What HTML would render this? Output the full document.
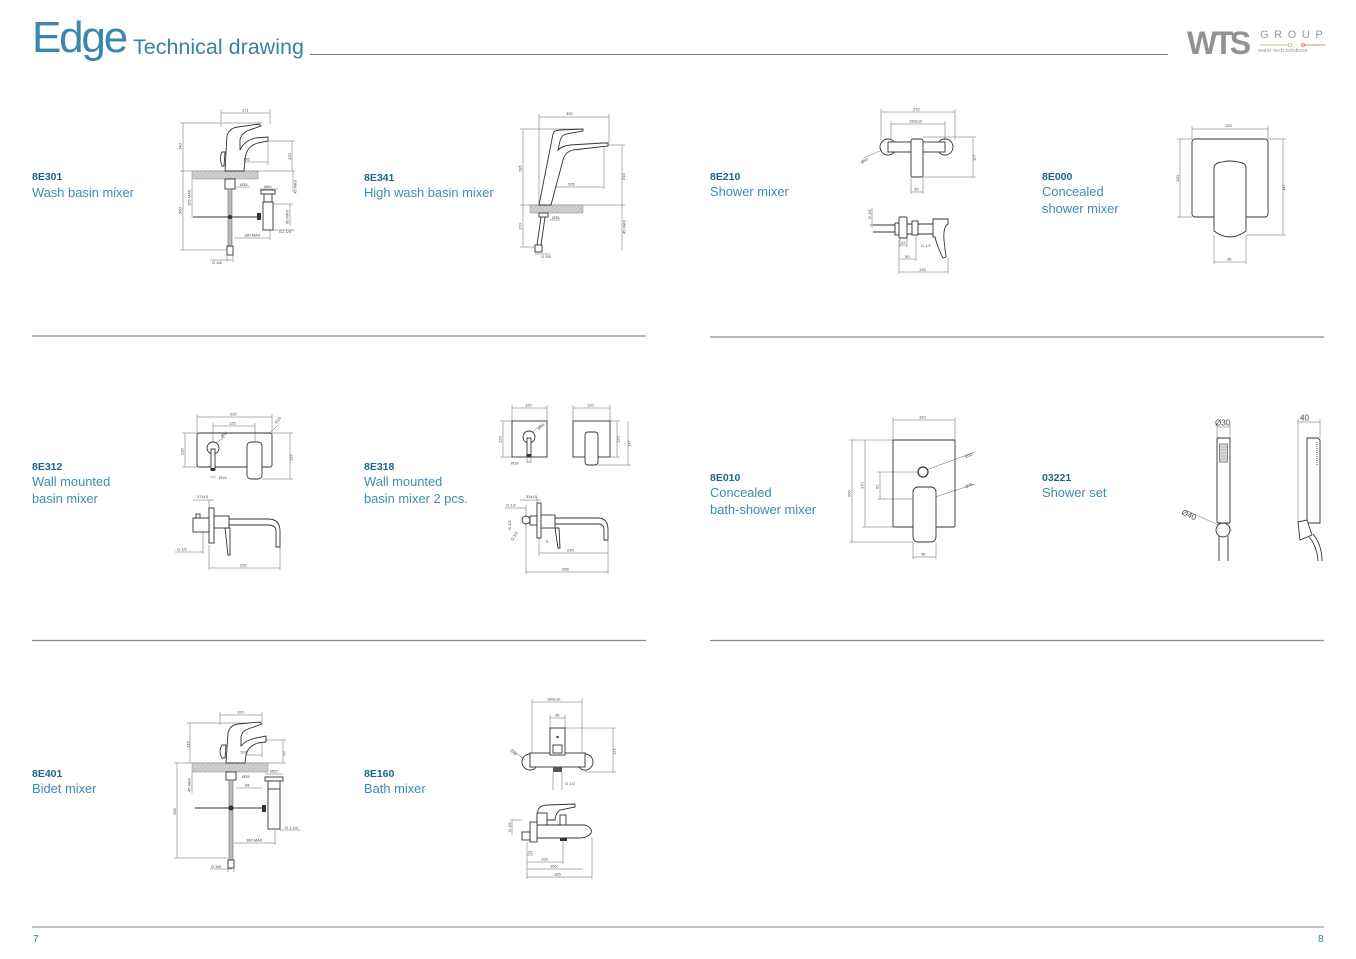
<!DOCTYPE html>
<html>
<head>
<meta charset="utf-8">
<style>
html,body{margin:0;padding:0;background:#fff;}
body{width:1356px;height:959px;position:relative;overflow:hidden;font-family:"Liberation Sans",sans-serif;}
.abs{position:absolute;white-space:nowrap;}
.title{left:32px;top:12px;font-size:44px;letter-spacing:-2.2px;color:#3a87ae;line-height:52px;}
.sub{left:133px;top:34px;font-size:21.5px;color:#3683a9;line-height:26px;}
.code{font-size:10.5px;font-weight:bold;color:#1d6688;line-height:12px;}
.desc{font-size:12.9px;color:#3a8db3;line-height:16.5px;}
.pn{font-size:10px;color:#2b7aa0;}
.wts{left:1187px;top:26px;font-size:32px;font-weight:bold;color:#939393;letter-spacing:-3.5px;line-height:34px;}
.grp{left:1260px;top:29px;font-size:11px;color:#9a9a9a;letter-spacing:5.6px;line-height:13px;}
.wtsol{left:1258px;top:48px;font-size:5.6px;color:#9a9a9a;line-height:7px;}
svg{position:absolute;left:0;top:0;}
.o{stroke:#333;stroke-width:0.9;fill:none;}
.of{stroke:#333;stroke-width:0.9;fill:#fff;}
.d{stroke:#666;stroke-width:0.5;fill:none;}
.t{font-family:"Liberation Sans",sans-serif;font-size:4px;fill:#444;}
.t8{font-family:"Liberation Sans",sans-serif;font-size:8px;fill:#444;}
</style>
</head>
<body>
<div class="abs title">Edge</div>
<div class="abs sub">Technical drawing</div>
<div class="abs wts">WTS</div>
<div class="abs grp">GROUP</div>
<div class="abs wtsol">water tech solutions</div>

<div class="abs code" style="left:32px;top:171px;">8E301</div>
<div class="abs desc" style="left:32px;top:185px;">Wash basin mixer</div>
<div class="abs code" style="left:364px;top:172px;">8E341</div>
<div class="abs desc" style="left:364px;top:185px;">High wash basin mixer</div>
<div class="abs code" style="left:710px;top:171px;">8E210</div>
<div class="abs desc" style="left:710px;top:184px;">Shower mixer</div>
<div class="abs code" style="left:1042px;top:171px;">8E000</div>
<div class="abs desc" style="left:1042px;top:184px;">Concealed<br>shower mixer</div>

<div class="abs code" style="left:32px;top:461px;">8E312</div>
<div class="abs desc" style="left:32px;top:474px;">Wall mounted<br>basin mixer</div>
<div class="abs code" style="left:364px;top:461px;">8E318</div>
<div class="abs desc" style="left:364px;top:474px;">Wall mounted<br>basin mixer 2 pcs.</div>
<div class="abs code" style="left:710px;top:472px;">8E010</div>
<div class="abs desc" style="left:710px;top:485px;">Concealed<br>bath-shower mixer</div>
<div class="abs code" style="left:1042px;top:472px;">03221</div>
<div class="abs desc" style="left:1042px;top:485px;">Shower set</div>

<div class="abs code" style="left:32px;top:768px;">8E401</div>
<div class="abs desc" style="left:32px;top:781px;">Bidet mixer</div>
<div class="abs code" style="left:364px;top:768px;">8E160</div>
<div class="abs desc" style="left:364px;top:781px;">Bath mixer</div>

<div class="abs pn" style="left:33px;top:934px;">7</div>
<div class="abs pn" style="left:1318px;top:934px;">8</div>

<svg width="1356" height="959" viewBox="0 0 1356 959" xmlns="http://www.w3.org/2000/svg">
<defs>
<pattern id="h" width="3" height="3" patternUnits="userSpaceOnUse" patternTransform="rotate(45)">
<rect width="3" height="3" fill="#d0d0d0"/>
<line x1="0" y1="0" x2="0" y2="3" stroke="#9a9a9a" stroke-width="0.6"/>
</pattern>
</defs>

<!-- header / dividers -->
<line x1="310" y1="54.5" x2="1168" y2="54.5" stroke="#7a7a7a" stroke-width="1"/>
<line x1="1260" y1="45" x2="1288" y2="45" stroke="#8cc06a" stroke-width="0.8"/>
<circle cx="1290" cy="45" r="1.8" fill="none" stroke="#8cc06a" stroke-width="0.7"/>
<line x1="1302" y1="45" x2="1325" y2="45" stroke="#d06a5a" stroke-width="0.8"/>
<circle cx="1303" cy="45" r="1.8" fill="none" stroke="#d06a5a" stroke-width="0.7"/>
<line x1="32" y1="336" x2="646" y2="336" stroke="#8a8a8a" stroke-width="1.2"/>
<line x1="710" y1="337" x2="1324" y2="337" stroke="#8a8a8a" stroke-width="1.2"/>
<line x1="32" y1="640.5" x2="646" y2="640.5" stroke="#8a8a8a" stroke-width="1.2"/>
<line x1="710" y1="640.5" x2="1324" y2="640.5" stroke="#8a8a8a" stroke-width="1.2"/>
<line x1="32" y1="927" x2="1324" y2="927" stroke="#8a8a8a" stroke-width="1"/>

<!-- D1 8E301 -->
<g>
<path class="d" d="M221,113H270 M221,109V127 M270,109V124 M183,123V250 M180,123H262 M180,171H295 M180,250H228 M268,141H295 M292,141V171 M227,162H268 M268,141V165 M236,187H250 M192,179V217 M260,189H278 M293,171V192 M290,204V226 M273,230H295 M273,204H293 M234,238H270 M270,230V240 M210,260H232 M227,255V262 M233,255V262"/>
<rect x="192" y="171" width="66" height="8" fill="url(#h)" stroke="#777" stroke-width="0.4"/>
<path class="of" d="M225,171 L227,136 Q229,128 238,127 L259,124 L261,126 L247,131 Q241,134 240,140 L240,150 Q244,141 255,138 L268,137 L268,141 L258,143 Q246,146 245,160 L244,171 Z"/>
<path class="of" d="M222,152 Q219,158 222,166 L224,166 L225,152 Z"/>
<rect class="of" x="225" y="179" width="10" height="10"/>
<rect x="228" y="189" width="4" height="57" fill="#bbb" stroke="#555" stroke-width="0.5"/>
<path class="o" d="M193,217H258"/>
<circle cx="230" cy="217" r="2" fill="#333"/>
<rect class="of" x="261" y="190" width="14" height="4"/>
<rect class="of" x="264" y="194" width="8" height="8"/>
<rect class="of" x="263" y="202" width="10" height="28"/>
<rect x="257" y="213" width="4" height="7" fill="#333"/>
<rect class="of" x="227" y="246" width="6" height="9"/>
<text class="t" x="242" y="111.5">171</text>
<text class="t" transform="translate(181.5,150) rotate(-90)">140</text>
<text class="t" transform="translate(181.5,214) rotate(-90)">360</text>
<text class="t" transform="translate(190.5,206) rotate(-90)">155 MAX</text>
<text class="t" transform="translate(291,160) rotate(-90)">120</text>
<text class="t" x="243" y="160.5">135</text>
<text class="t" x="240" y="186">Ø35</text>
<text class="t" x="264" y="188">Ø64</text>
<text class="t" transform="translate(296.5,194) rotate(-90)">45 MAX</text>
<text class="t" transform="translate(288.5,224) rotate(-90)">90 MAX</text>
<text class="t" x="279" y="233">G1 1/4"</text>
<text class="t" x="244" y="236.5">180 MAX</text>
<text class="t" x="212" y="264">G 3/8</text>
</g>

<!-- D2 8E341 -->
<g>
<path class="d" d="M539,117H609 M539,114V205 M609,114V143 M523,129V247 M520,129H582 M520,205H625 M520,247H537 M608,145H625 M622,145V205 M543,187H604 M604,147V189 M550,220H560 M535,254H550 M622,205V250"/>
<rect x="530" y="205" width="53" height="8" fill="url(#h)" stroke="#777" stroke-width="0.4"/>
<path class="of" d="M539,205 L553,134 Q554,130 560,130 L583,129 L583,131 L566,134 Q561,136 560,141 L558,150 Q562,146 570,145 L603,143 L608,143 L608,146 L573,150 Q565,152 563,160 L551,205 Z"/>
<rect class="of" x="539" y="213" width="9" height="4"/>
<path class="o" d="M541,217 L537,245 M545,217 L541,245"/>
<rect class="of" x="535" y="245" width="7" height="7"/>
<text class="t" x="566" y="115">300</text>
<text class="t" transform="translate(521.5,172) rotate(-90)">285</text>
<text class="t" transform="translate(521.5,230) rotate(-90)">170</text>
<text class="t" transform="translate(625,180) rotate(-90)">210</text>
<text class="t" x="568" y="185.5">205</text>
<text class="t" x="552" y="219">Ø35</text>
<text class="t" transform="translate(625.5,234) rotate(-90)">45 MAX</text>
<text class="t" x="541" y="258">G 3/8</text>
</g>

<!-- D3 8E210 -->
<g>
<path class="d" d="M881,112H955 M881,109V140 M955,109V140 M891,124H945 M891,121V140 M945,121V140 M923,137H976 M923,177H976 M973,137V177 M911,192H923 M911,177V194 M923,177V194 M864,158 L882,150"/>
<circle class="o" cx="888" cy="147" r="8"/>
<circle class="o" cx="945" cy="147" r="8"/>
<rect class="of" x="888" y="142" width="57" height="10"/>
<rect class="of" x="911" y="139" width="12" height="38" rx="2"/>
<text class="t" x="913" y="110.5">210</text>
<text class="t" x="909" y="122.5">150±10</text>
<text class="t" transform="translate(975.5,161) rotate(-90)">117</text>
<text class="t" x="914" y="190.5">35</text>
<text class="t" transform="translate(862,164) rotate(-35)">Ø60</text>
<path class="d" d="M872,208V228 M869,225H880 M900,245H907 M900,238V247 M907,238V247 M899,259H916 M899,240V274 M916,236V261 M899,272H948 M948,258V274"/>
<path class="o" d="M873,225H895 M873,232H895"/>
<rect class="of" x="895" y="223" width="5" height="12"/>
<rect class="of" x="899" y="217" width="8" height="21" rx="1"/>
<path class="o" d="M907,224H933 M907,234H933"/>
<rect class="of" x="912" y="221" width="6" height="14"/>
<path class="of" d="M933,219 L948,219 L948,224 Q943,227 944,240 L946,257 L943,258 Q937,246 935,237 L933,237 Z"/>
<text class="t" transform="translate(871,219) rotate(-90)">G 1/2</text>
<text class="t" x="901" y="244">22</text>
<text class="t" x="921" y="247">G 1/2</text>
<text class="t" x="905" y="258">50</text>
<text class="t" x="919" y="271">135</text>
</g>

<!-- D4 8E000 -->
<g>
<path class="d" d="M1192,129H1268 M1192,126V139 M1268,126V139 M1180,139V217 M1177,139H1192 M1177,217H1192 M1283,139V235 M1268,139H1286 M1246,235H1286 M1214,262H1246 M1214,235V264 M1246,235V264"/>
<rect class="o" x="1192" y="139" width="76" height="78" rx="3"/>
<path class="of" d="M1214,168 Q1214,163 1222,162 Q1230,160 1238,162 Q1246,163 1246,168 L1246,231 Q1238,237 1230,237 Q1222,237 1214,231 Z"/>
<text class="t" x="1225" y="127">120</text>
<text class="t" transform="translate(1179,182) rotate(-90)">120</text>
<text class="t" transform="translate(1285,191) rotate(-90)">147</text>
<text class="t" x="1227" y="260.5">45</text>
</g>

<!-- D5 8E312 -->
<g>
<path class="d" d="M197,417H272 M197,414V433 M272,414V433 M213,426H255 M213,423V448 M255,423V442 M185,433V467 M182,433H197 M182,467H197 M290,433V479 M272,433H293 M262,479H293 M210,477H216 M270,433 L278,425 M216,443 L225,437"/>
<rect class="o" x="197" y="433" width="75" height="34" rx="2"/>
<circle class="of" cx="213" cy="448" r="6"/>
<rect class="of" x="211" y="449" width="4" height="21"/>
<rect x="211" y="468" width="4" height="3" fill="#333"/>
<rect class="of" x="247" y="442" width="15" height="37" rx="4"/>
<text class="t" x="230" y="415.5">220</text>
<text class="t" x="229" y="424.5">125</text>
<text class="t" transform="translate(183.5,455) rotate(-90)">130</text>
<text class="t" transform="translate(292.5,461) rotate(-90)">137</text>
<text class="t" x="219" y="479">Ø18</text>
<text class="t" transform="translate(277,424) rotate(-55)">R10</text>
<text class="t" transform="translate(222,438) rotate(-40)">Ø46</text>
<path class="d" d="M193,500H214 M209,500V508 M175,552H203 M203,532V554 M209,568H280 M209,545V570 M280,547V570"/>
<rect class="of" x="209" y="508" width="5" height="35"/>
<rect class="of" x="193" y="518" width="16" height="14"/>
<rect class="of" x="196" y="514" width="4" height="4"/>
<path class="of" d="M229,519 L268,519 Q280,519 280,531 L280,547 L276,547 L276,531 Q276,525 268,525 L229,525 Z"/>
<rect class="of" x="214" y="516" width="15" height="12"/>
<path class="of" d="M225,528 L230,528 L230,555 L228,555 Z"/>
<text class="t" x="197" y="498">37±10</text>
<text class="t" x="177" y="550.5">G 1/2</text>
<text class="t" x="240" y="566.5">220</text>
</g>

<!-- D6 8E318 -->
<g>
<path class="d" d="M512,408H547 M512,405V421 M547,405V421 M503,421V457 M500,421H512 M500,457H512 M532,432 L541,425 M527,462H531 M527,457V463 M531,457V463 M573,408H610 M573,405V421 M610,405V421 M617,421V457 M610,421H620 M610,457H620 M628,421V465 M598,465H631"/>
<rect class="o" x="512" y="421" width="35" height="36"/>
<circle class="of" cx="529" cy="437" r="6"/>
<rect class="of" x="527" y="438" width="4" height="18"/>
<rect x="527" y="454" width="4" height="3" fill="#333"/>
<rect class="o" x="573" y="421" width="37" height="36"/>
<rect class="of" x="585" y="432" width="13" height="33" rx="3"/>
<text class="t" x="525" y="406.5">120</text>
<text class="t" transform="translate(501.5,443) rotate(-90)">120</text>
<text class="t" transform="translate(539,430) rotate(-40)">Ø46</text>
<text class="t" x="511" y="464.5">Ø18</text>
<text class="t" x="587" y="406.5">120</text>
<text class="t" transform="translate(619.5,443) rotate(-90)">120</text>
<text class="t" transform="translate(630.5,447) rotate(-90)">147</text>
<path class="d" d="M520,500H541 M537,497V503 M505,508H526 M526,505V516 M539,553H608 M539,538V556 M608,540V556 M526,572H608 M526,524V574 M608,556V574"/>
<circle class="of" cx="526" cy="520" r="4"/>
<rect class="of" x="530" y="516" width="7" height="9"/>
<rect class="of" x="537" y="503" width="4" height="35"/>
<path class="of" d="M555,518 L598,518 Q608,518 608,530 L608,540 L604,540 L604,530 Q604,524 598,524 L555,524 Z"/>
<rect class="of" x="541" y="515" width="14" height="13"/>
<path class="of" d="M555,528 L559,528 L560,548 L558,548 Z"/>
<text class="t" x="526" y="498">33±10</text>
<text class="t" x="506" y="506.5">G 1/2</text>
<text class="t" transform="translate(511,530) rotate(-90)">G 1/2</text>
<text class="t" transform="translate(513,541) rotate(-60)">G 1/2</text>
<text class="t" x="546" y="543">5</text>
<text class="t" x="567" y="551.5">230</text>
<text class="t" x="562" y="570.5">266</text>
</g>

<!-- D7 8E010 -->
<g>
<path class="d" d="M893,420H955 M893,417V440 M955,417V440 M852,440V542 M849,440H893 M849,542H913 M865,440V527 M862,527H893 M880,472V499 M877,472H918 M877,499H913 M926,470 L975,452 M932,498 L975,484 M913,557H936 M913,542V559 M936,542V559"/>
<rect class="o" x="893" y="440" width="62" height="87" rx="1"/>
<circle cx="923" cy="472" r="5" fill="#fff" stroke="#333" stroke-width="1.3"/>
<rect class="of" x="913" y="487" width="23" height="55" rx="5"/>
<text class="t" x="919" y="418.5">120</text>
<text class="t" transform="translate(850.5,497) rotate(-90)">200</text>
<text class="t" transform="translate(863.5,489) rotate(-90)">170</text>
<text class="t" transform="translate(878.5,489) rotate(-90)">52</text>
<text class="t" transform="translate(966,458) rotate(-22)">Ø30</text>
<text class="t" transform="translate(966,488) rotate(-22)">Ø46</text>
<text class="t" x="921" y="555.5">45</text>
</g>

<!-- D8 03221 -->
<g>
<path class="d" d="M1217,427H1230 M1217,424V438 M1230,424V438 M1185,510 L1232,531 M1298,422H1320 M1298,419V522 M1320,419V438"/>
<rect class="o" x="1217" y="438" width="13" height="85" rx="1"/>
<rect x="1219.5" y="444" width="8" height="18" fill="#ddd" stroke="#444" stroke-width="0.6"/>
<path d="M1220,447H1227 M1220,450H1227 M1220,453H1227 M1220,456H1227 M1220,459H1227" stroke="#777" stroke-width="0.4"/>
<circle class="of" cx="1223" cy="530" r="7"/>
<path class="o" d="M1219,536V561 M1228,536V561"/>
<path class="of" d="M1307,438 L1318,438 L1320,440 L1320,523 L1307,523 Z"/>
<path d="M1317,442V465" stroke="#555" stroke-width="1" stroke-dasharray="1,1"/>
<path class="of" d="M1298,522 L1307,520 L1312,535 L1300,540 Z"/>
<path class="o" d="M1309,537 Q1317,546 1318,561 M1313,534 Q1322,545 1322,561"/>
<text class="t8" x="1215" y="425.5">Ø30</text>
<text class="t8" transform="translate(1181,514) rotate(25)">Ø40</text>
<text class="t8" x="1300" y="420.5">40</text>
</g>

<!-- D9 8E401 -->
<g>
<path class="d" d="M220,715H262 M220,712V725 M262,712V722 M190,723V763 M187,723H260 M177,763V858 M174,763H286 M174,858H228 M266,740H286 M283,740V763 M228,755H262 M262,740V757 M236,788H262 M192,772V793 M265,774H283 M280,830H300 M234,843H275 M275,830V845 M210,869H232 M228,866V872 M234,866V872"/>
<rect x="192" y="763" width="76" height="9" fill="url(#h)" stroke="#777" stroke-width="0.4"/>
<path class="of" d="M226,763 L228,733 Q230,725 238,724 L260,722 L262,724 L248,729 Q242,731 241,737 L241,746 Q246,740 256,738 L266,736 L266,742 L258,743 Q248,746 246,755 L245,763 Z"/>
<path class="of" d="M222,745 Q218,752 222,758 L225,758 L226,745 Z"/>
<rect class="of" x="226" y="772" width="10" height="8"/>
<rect x="229" y="780" width="4" height="80" fill="#bbb" stroke="#555" stroke-width="0.5"/>
<path class="o" d="M195,808H262"/>
<circle cx="231" cy="808" r="2.5" fill="#333"/>
<rect class="of" x="265" y="777" width="18" height="4"/>
<rect class="of" x="268" y="781" width="12" height="8"/>
<rect class="of" x="268" y="789" width="12" height="40"/>
<rect x="262" y="805" width="4" height="7" fill="#333"/>
<rect class="of" x="228" y="860" width="6" height="8"/>
<text class="t" x="237" y="713.5">120</text>
<text class="t" transform="translate(189.5,748) rotate(-90)">176</text>
<text class="t" transform="translate(176,815) rotate(-90)">258</text>
<text class="t" transform="translate(285.5,756) rotate(-90)">70</text>
<text class="t" x="240" y="753.5">103</text>
<text class="t" x="242" y="778">Ø35</text>
<text class="t" x="245" y="786.5">98</text>
<text class="t" transform="translate(190.5,792) rotate(-90)">45 MAX</text>
<text class="t" x="270" y="772.5">Ø52</text>
<text class="t" x="285" y="829">G 1 1/4</text>
<text class="t" x="246" y="841.5">180 MAX</text>
<text class="t" x="211" y="868">G 3/8</text>
</g>

<!-- D10 8E160 -->
<g>
<path class="d" d="M532,702H582 M532,699V760 M582,699V760 M550,718H565 M550,715V728 M565,715V728 M565,728H616 M585,772H616 M613,728V772 M553,772V790 M562,772V790 M515,752 L525,760"/>
<circle class="o" cx="530" cy="762" r="8"/>
<circle class="o" cx="585" cy="762" r="8"/>
<rect class="of" x="530" y="753" width="55" height="14"/>
<rect class="of" x="550" y="728" width="15" height="27"/>
<circle cx="557.5" cy="737" r="1.2" fill="#333"/>
<rect class="of" x="553" y="745" width="9" height="8"/>
<rect x="553" y="767" width="9" height="5" fill="#555"/>
<text class="t" x="547" y="700.5">150±10</text>
<text class="t" x="555" y="716.5">45</text>
<text class="t" transform="translate(615.5,755) rotate(-90)">121</text>
<text class="t" x="565" y="785">G 1/2</text>
<text class="t" transform="translate(510,751) rotate(40)">Ø60</text>
<path class="d" d="M512,820V835 M510,820H522 M527,855H533 M527,862H563 M563,841V864 M527,869H583 M527,877H592 M527,842V879 M592,838V879"/>
<path class="of" d="M537,820 L538,810 Q540,805 548,805 L575,804 L575,807 L560,810 Q556,812 555,820 Z"/>
<rect class="of" x="537" y="813" width="10" height="12"/>
<rect class="of" x="560" y="815" width="6" height="10"/>
<path class="of" d="M537,825 L585,825 Q593,828 591,833 Q588,838 578,838 L537,838 Z"/>
<rect class="of" x="530" y="822" width="7" height="20"/>
<rect class="of" x="522" y="832" width="8" height="8"/>
<rect x="560" y="838" width="7" height="3" fill="#333"/>
<text class="t" transform="translate(511,832) rotate(-90)">G 1/2</text>
<text class="t" x="528" y="853.5">22</text>
<text class="t" x="541" y="860.5">106</text>
<text class="t" x="550" y="867.5">166</text>
<text class="t" x="554" y="875.5">185</text>
</g>
</svg>
</body>
</html>
